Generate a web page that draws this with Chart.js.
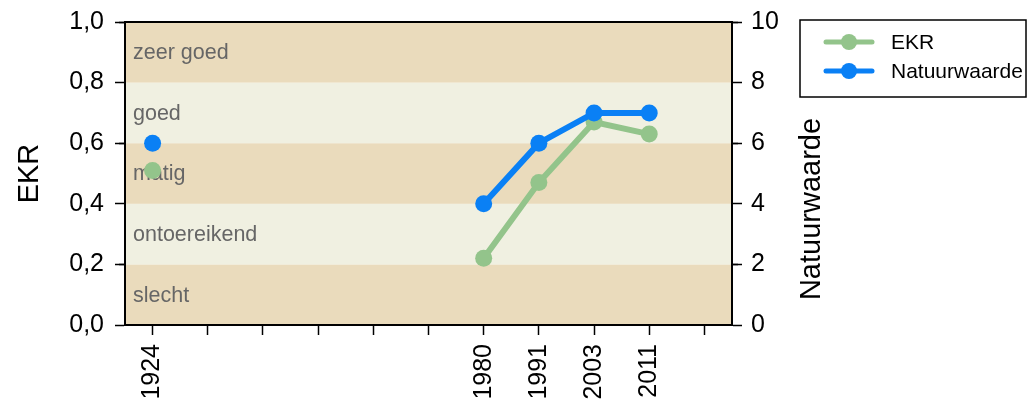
<!DOCTYPE html>
<html>
<head>
<meta charset="utf-8">
<script src="https://cdn.jsdelivr.net/npm/chart.js@4.4.1/dist/chart.umd.min.js"></script>
<style>
  html, body { margin: 0; padding: 0; background: #fff; }
  #wrap { width: 1030px; height: 410px; }
</style>
</head>
<body>
<div id="wrap"><canvas id="chart" width="1030" height="410"></canvas></div>
<script>
// category slots along the x axis (empty ones only carry a tick)
const years = ['1924', '', '', '', '', '', '1980', '1991', '2003', '2011', ''];
const ekr = [0.51, null, null, null, null, null, 0.22, 0.47, 0.67, 0.63, null];
const natuurwaarde = [6, null, null, null, null, null, 4, 6, 7, 7, null];

// quality classes on the EKR scale
const bandLabels = ['slecht', 'ontoereikend', 'matig', 'goed', 'zeer goed'];
const bandLimits = [0, 0.2, 0.4, 0.6, 0.8, 1.0];
const bandColors = ['#EADBBC', '#F0F0E1'];

const FONT = "'Liberation Sans', Arial, Helvetica, sans-serif";

// hide minor tick marks from chart.js, they are drawn shorter below
const majorTickColor = (c) => (c.index % 2 === 0 ? '#000' : 'rgba(0,0,0,0)');

const bandPlugin = {
  id: 'bands',
  beforeDatasetsDraw(chart) {
    const { ctx, chartArea, scales } = chart;
    const y = scales.y;
    ctx.save();
    bandLabels.forEach((label, i) => {
      const top = y.getPixelForValue(bandLimits[i + 1]);
      const bottom = y.getPixelForValue(bandLimits[i]);
      ctx.fillStyle = bandColors[i % 2];
      ctx.fillRect(chartArea.left, top, chartArea.right - chartArea.left, bottom - top);
      ctx.fillStyle = '#666666';
      ctx.font = '21.5px ' + FONT;
      ctx.textBaseline = 'middle';
      ctx.textAlign = 'left';
      ctx.fillText(label, chartArea.left + 8, (top + bottom) / 2 + 1);
    });
    ctx.restore();
  },
  afterDraw(chart) {
    const { ctx, chartArea, scales } = chart;
    ctx.save();
    ctx.strokeStyle = '#000';
    ctx.lineWidth = 2;
    ctx.strokeRect(chartArea.left, chartArea.top, chartArea.right - chartArea.left, chartArea.bottom - chartArea.top);

    // minor ticks
    ctx.lineWidth = 1.5;
    ctx.beginPath();
    scales.y.ticks.forEach((t, i) => {
      if (i % 2 === 1) {
        const py = Math.round(scales.y.getPixelForValue(t.value)) + 0.5;
        ctx.moveTo(chartArea.left - 6, py);
        ctx.lineTo(chartArea.left, py);
      }
    });
    scales.y2.ticks.forEach((t, i) => {
      if (i % 2 === 1) {
        const py = Math.round(scales.y2.getPixelForValue(t.value)) + 0.5;
        ctx.moveTo(chartArea.right, py);
        ctx.lineTo(chartArea.right + 6, py);
      }
    });
    ctx.stroke();

    // right axis title, reading bottom to top
    ctx.translate(812, 209);
    ctx.rotate(-Math.PI / 2);
    ctx.fillStyle = '#000';
    ctx.font = '29px ' + FONT;
    ctx.textAlign = 'center';
    ctx.textBaseline = 'middle';
    ctx.fillText('Natuurwaarde', 0, 0);
    ctx.restore();
  }
};

const boxLegend = {
  id: 'boxLegend',
  afterDraw(chart) {
    const { ctx } = chart;
    const x0 = 800, y0 = 20, w = 226, h = 77;
    ctx.save();
    ctx.strokeStyle = '#000';
    ctx.lineWidth = 1.5;
    ctx.strokeRect(x0, y0, w, h);
    chart.data.datasets.forEach((ds, i) => {
      const cy = y0 + 22 + i * 29;
      ctx.strokeStyle = ds.borderColor;
      ctx.lineWidth = 5;
      ctx.lineCap = 'round';
      ctx.beginPath();
      ctx.moveTo(826, cy);
      ctx.lineTo(872, cy);
      ctx.stroke();
      ctx.fillStyle = ds.borderColor;
      ctx.beginPath();
      ctx.arc(849, cy, 8, 0, Math.PI * 2);
      ctx.fill();
      ctx.fillStyle = '#000';
      ctx.font = '21px ' + FONT;
      ctx.textBaseline = 'middle';
      ctx.fillText(ds.label, 891, cy + 1);
    });
    ctx.restore();
  }
};

new Chart(document.getElementById('chart').getContext('2d'), {
  type: 'line',
  data: {
    labels: years,
    datasets: [
      {
        label: 'EKR',
        data: ekr,
        yAxisID: 'y',
        borderColor: '#93C48B',
        backgroundColor: '#93C48B',
        borderWidth: 6,
        pointRadius: 8.5,
        pointBorderWidth: 0,
        spanGaps: false,
        order: 2
      },
      {
        label: 'Natuurwaarde',
        data: natuurwaarde,
        yAxisID: 'y2',
        borderColor: '#0A80F5',
        backgroundColor: '#0A80F5',
        borderWidth: 6,
        pointRadius: 8.5,
        pointBorderWidth: 0,
        spanGaps: false,
        order: 1
      }
    ]
  },
  options: {
    responsive: false,
    animation: false,
    layout: { padding: { top: 22, right: 198, bottom: 0, left: 0 } },
    plugins: {
      legend: { display: false },
      tooltip: { enabled: false }
    },
    scales: {
      x: {
        offset: true,
        grid: { drawOnChartArea: false, drawTicks: true, tickLength: 10, tickColor: '#000', tickWidth: 1.5, offset: false },
        border: { display: true, color: '#000', width: 2 },
        ticks: {
          autoSkip: false, minRotation: 90, maxRotation: 90, padding: 9,
          color: '#000', font: { family: FONT, size: 25 }
        },
        afterFit(scale) { scale.height = 85; scale.paddingLeft = 0; scale.paddingRight = 0; }
      },
      y: {
        position: 'left',
        min: 0, max: 1,
        grid: { drawOnChartArea: false, drawTicks: true, tickLength: 10, tickColor: majorTickColor, tickWidth: 1.5 },
        border: { display: true, color: '#000', width: 2 },
        ticks: {
          stepSize: 0.1, padding: 11, color: '#000', font: { family: FONT, size: 25 },
          callback(value, index) { return index % 2 === 0 ? value.toFixed(1).replace('.', ',') : ''; }
        },
        title: { display: true, text: 'EKR', color: '#000', font: { family: FONT, size: 29 }, padding: { top: 13 } },
        afterFit(scale) { scale.width = 125; scale.paddingTop = 0; scale.paddingBottom = 0; }
      },
      y2: {
        position: 'right',
        min: 0, max: 10,
        grid: { drawOnChartArea: false, drawTicks: true, tickLength: 10, tickColor: majorTickColor, tickWidth: 1.5 },
        border: { display: true, color: '#000', width: 2 },
        ticks: {
          stepSize: 1, padding: 9, color: '#000', font: { family: FONT, size: 25 },
          callback(value) { return value % 2 === 0 ? String(value) : ''; }
        },
        afterFit(scale) { scale.width = 100; scale.paddingTop = 0; scale.paddingBottom = 0; }
      }
    }
  },
  plugins: [bandPlugin, boxLegend]
});
</script>
</body>
</html>
